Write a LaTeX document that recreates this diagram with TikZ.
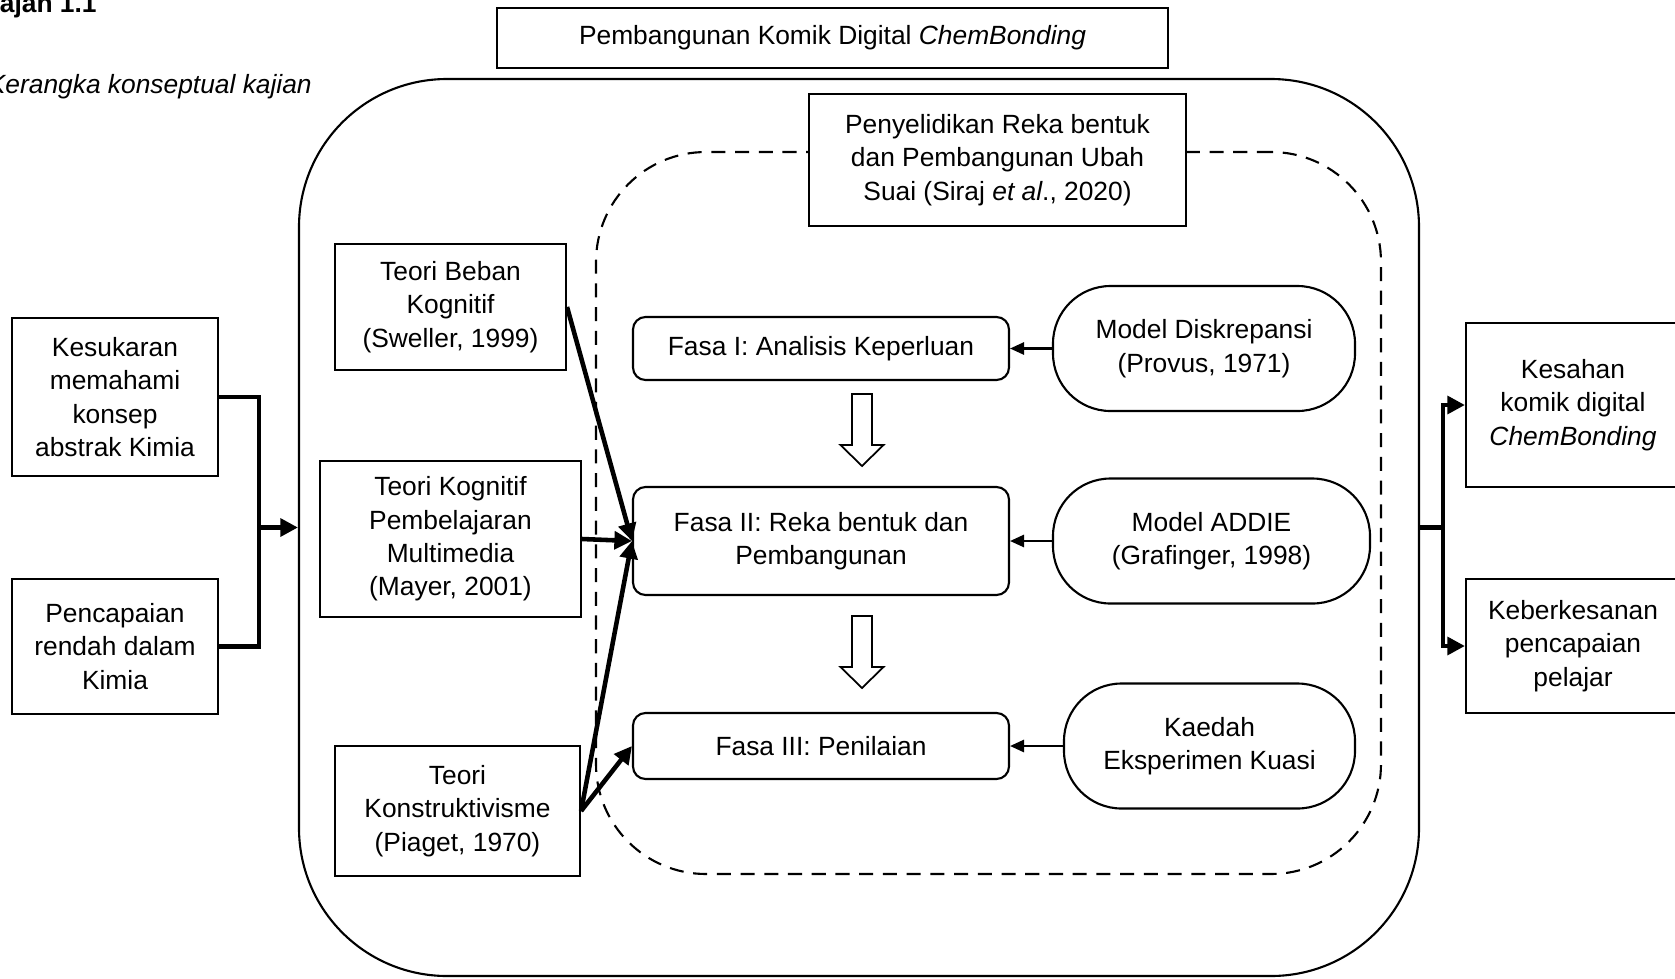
\documentclass[tikz,border=0pt]{standalone}
\usepackage{fontspec}
\setmainfont{Liberation Sans}
\usetikzlibrary{arrows.meta}

\begin{document}
\begin{tikzpicture}[
        font=\fontsize{15}{19}\selectfont,
        box/.style={draw, line width=1.2pt, align=center, inner sep=2pt},
        fasa/.style={box, rounded corners=0.25cm, minimum width=7.52cm},
        model/.style={box, rounded corners=1.15cm, minimum height=2.5cm},
        link/.style={line width=2.6pt, -{Triangle[length=10pt, width=10pt]}},
        feed/.style={line width=1.2pt, -{Triangle[length=8pt, width=7pt]}},
        hollow/.style={line width=1pt, line join=miter}
    ]
            \useasboundingbox (0,0) rectangle (33.5,-19.56);

            \node[anchor=base west, inner sep=0pt, font=\fontsize{15}{19}\selectfont\bfseries] (rajah) at (-0.39,-0.24) {Rajah 1.1};
            \node[anchor=base west, inner sep=0pt, font=\fontsize{15}{19}\selectfont\itshape] (tajuk) at (-0.25,-1.86) {Kerangka konseptual kajian};

            \node[box, minimum width=13.42cm, minimum height=1.19cm] (komik) at (16.65,-0.76) {Pembangunan Komik Digital \textit{ChemBonding}};
            \node[draw, line width=1.2pt, rounded corners=2.96cm, minimum width=22.4cm, minimum height=17.94cm] (frame) at (17.18,-10.55) {};
            \node[draw, line width=1.2pt, dash pattern=on 8pt off 5.5pt, rounded corners=2.2cm, minimum width=15.7cm, minimum height=14.44cm] (kaji) at (19.77,-10.26) {};
            \node[box, fill=white, minimum width=7.54cm, minimum height=2.64cm] (siraj) at (19.95,-3.2) {Penyelidikan Reka bentuk\\dan Pembangunan Ubah\\Suai (Siraj \textit{et al}., 2020)};

            \node[box, minimum width=4.12cm, minimum height=3.16cm] (sukar) at (2.3,-7.94) {Kesukaran\\memahami\\konsep\\abstrak Kimia};
            \node[box, minimum width=4.12cm, minimum height=2.7cm] (rendah) at (2.3,-12.93) {Pencapaian\\rendah dalam\\Kimia};

            \node[box, minimum width=4.62cm, minimum height=2.52cm] (sweller) at (9.01,-6.14) {Teori Beban\\Kognitif\\(Sweller, 1999)};
            \node[box, minimum width=5.22cm, minimum height=3.12cm] (mayer) at (9.01,-10.78) {Teori Kognitif\\Pembelajaran\\Multimedia\\(Mayer, 2001)};
            \node[box, minimum width=4.9cm, minimum height=2.6cm] (piaget) at (9.15,-16.22) {Teori\\Konstruktivisme\\(Piaget, 1970)};

            \node[fasa, minimum height=1.26cm] (fasa1) at (16.42,-6.97) {Fasa I: Analisis Keperluan};
            \node[fasa, minimum height=2.16cm] (fasa2) at (16.42,-10.82) {Fasa II: Reka bentuk dan\\Pembangunan};
            \node[fasa, minimum height=1.32cm] (fasa3) at (16.42,-14.92) {Fasa III: Penilaian};

            % hollow arrows between the phases
            \coordinate (turun1) at (17.24,-7.88);
            \coordinate (turun2) at (17.24,-12.32);
            \draw[hollow] (turun1) ++(-0.2,0) -- ++(0.4,0) -- ++(0,-1.02) -- ++(0.23,0) -- ++(-0.43,-0.42) -- ++(-0.43,0.42) -- ++(0.23,0) -- cycle;
            \draw[hollow] (turun2) ++(-0.2,0) -- ++(0.4,0) -- ++(0,-1.02) -- ++(0.23,0) -- ++(-0.43,-0.42) -- ++(-0.43,0.42) -- ++(0.23,0) -- cycle;

            \node[model, minimum width=6.04cm] (provus) at (24.08,-6.97) {Model Diskrepansi\\(Provus, 1971)};
            \node[model, minimum width=6.34cm] (addie) at (24.23,-10.82) {Model ADDIE\\(Grafinger, 1998)};
            \node[model, minimum width=5.82cm] (kuasi) at (24.19,-14.92) {Kaedah\\Eksperimen Kuasi};

            \node[box, minimum width=4.28cm, minimum height=3.28cm] (sah) at (31.46,-8.1) {Kesahan\\komik digital\\\textit{ChemBonding}};
            \node[box, minimum width=4.28cm, minimum height=2.68cm] (kesan) at (31.46,-12.92) {Keberkesanan\\pencapaian\\pelajar};

            \coordinate (jl) at (5.18,-10.55);
            \coordinate (jr) at (28.86,-10.55);

            \draw[line width=2.6pt, line join=miter] (sukar.east) -| (jl) |- (rendah.east);
            \draw[link] (jl) -- (frame.west);
            \draw[line width=2.6pt] (frame.east) -- (jr);
            \draw[link] (jr) |- (sah.west);
            \draw[link] (jr) |- (kesan.west);

            \draw[link] (sweller.east) -- (fasa2.west);
            \draw[link] (mayer.east) -- (fasa2.west);
            \draw[link] (piaget.east) -- (fasa2.west);
            \draw[link] (piaget.east) -- (fasa3.west);

            \draw[feed] (provus.west) -- (fasa1.east);
            \draw[feed] (addie.west) -- (fasa2.east);
            \draw[feed] (kuasi.west) -- (fasa3.east);
        \end{tikzpicture}
\end{document}
